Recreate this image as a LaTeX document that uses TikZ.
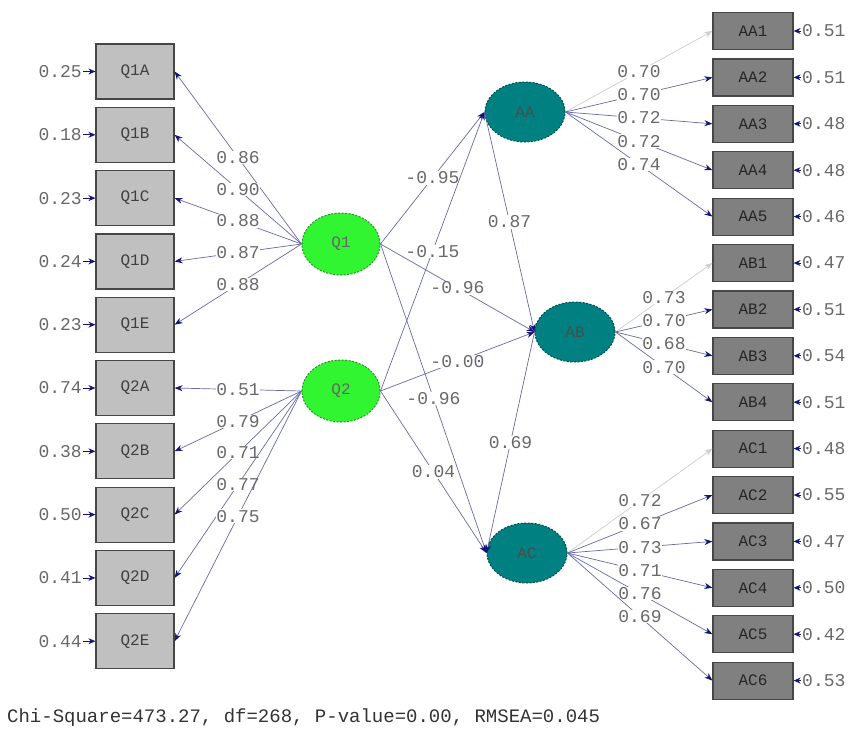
\documentclass[tikz,border=0pt]{standalone}
\usepackage{fontspec}
\setmonofont{Liberation Mono}
\usepackage{xcolor}
\usepackage{tikz}
\usetikzlibrary{shapes.geometric,arrows.meta}
\definecolor{latentGreen}{RGB}{50,245,50}
\definecolor{latentGreenLine}{RGB}{40,150,40}
\definecolor{latentTeal}{RGB}{0,128,128}
\definecolor{latentTealLine}{RGB}{0,80,80}
\definecolor{pathBlue}{RGB}{105,105,170}
\definecolor{pathNavy}{RGB}{20,20,120}
\definecolor{fixedGray}{RGB}{205,205,205}
\definecolor{boxLight}{RGB}{192,192,192}
\definecolor{boxDark}{RGB}{128,128,128}
\definecolor{boxEdge}{RGB}{70,70,70}
\definecolor{valueGray}{RGB}{105,105,105}

\begin{document}
\begin{tikzpicture}[x=1pt,y=-1pt,
  obsQ/.style={draw=boxEdge, fill=boxLight, line width=1.2pt, minimum width=78pt, minimum height=55pt, inner sep=0pt, font=\ttfamily\fontsize{16}{16}\selectfont, text=black!75},
  obsA/.style={obsQ, fill=boxDark, minimum width=80pt, minimum height=37pt, text=black!85},
  latQ/.style={ellipse, draw=latentGreenLine, dash pattern=on 2pt off 1.5pt, line width=1pt, fill=latentGreen, minimum width=78pt, minimum height=62pt, inner sep=0pt, font=\ttfamily\fontsize{16}{16}\selectfont, text=black!60},
  latA/.style={latQ, draw=latentTealLine, fill=latentTeal, minimum width=80pt, minimum height=60pt, text=black!70},
  errval/.style={font=\ttfamily\fontsize{18}{18}\selectfont, text=valueGray, inner sep=1pt},
  coef/.style={errval, fill=white, inner sep=0.5pt},
  loadline/.style={draw=pathBlue, line width=0.7pt, -{Stealth[length=8pt,width=6pt,color=pathNavy]}},
  fixedline/.style={loadline, draw=fixedGray, -{Stealth[length=8pt,width=6pt,color=fixedGray]}},
  errline/.style={draw=pathNavy, line width=0.8pt, -{Stealth[length=7pt,width=6pt]}}]
\fill[white] (0,0) rectangle (852,736);
\useasboundingbox (0,0) rectangle (852,736);
%
\node[obsQ] (Q1A) at (135,71.5) {Q1A};
\node[obsQ] (Q1B) at (135,134.8) {Q1B};
\node[obsQ] (Q1C) at (135,198.1) {Q1C};
\node[obsQ] (Q1D) at (135,261.4) {Q1D};
\node[obsQ] (Q1E) at (135,324.7) {Q1E};
\node[obsQ] (Q2A) at (135,388) {Q2A};
\node[obsQ] (Q2B) at (135,451.3) {Q2B};
\node[obsQ] (Q2C) at (135,514.6) {Q2C};
\node[obsQ] (Q2D) at (135,577.9) {Q2D};
\node[obsQ] (Q2E) at (135,641.2) {Q2E};
%
\node[errval, anchor=east] (eQ1A) at (83,71.5) {0.25};
\node[errval, anchor=east] (eQ1B) at (83,134.8) {0.18};
\node[errval, anchor=east] (eQ1C) at (83,198.1) {0.23};
\node[errval, anchor=east] (eQ1D) at (83,261.4) {0.24};
\node[errval, anchor=east] (eQ1E) at (83,324.7) {0.23};
\node[errval, anchor=east] (eQ2A) at (83,388) {0.74};
\node[errval, anchor=east] (eQ2B) at (83,451.3) {0.38};
\node[errval, anchor=east] (eQ2C) at (83,514.6) {0.50};
\node[errval, anchor=east] (eQ2D) at (83,577.9) {0.41};
\node[errval, anchor=east] (eQ2E) at (83,641.2) {0.44};
%
\node[latQ] (Q1) at (341,244) {Q1};
\node[latQ] (Q2) at (341,391) {Q2};
\node[latA] (AA) at (525,112) {AA};
\node[latA] (AB) at (575,332) {AB};
\node[latA] (AC) at (527,553) {AC};
%
\node[obsA] (AA1) at (753,31) {AA1};
\node[obsA] (AA2) at (753,77.4) {AA2};
\node[obsA] (AA3) at (753,123.8) {AA3};
\node[obsA] (AA4) at (753,170.2) {AA4};
\node[obsA] (AA5) at (753,216.6) {AA5};
\node[obsA] (AB1) at (753,263) {AB1};
\node[obsA] (AB2) at (753,309.4) {AB2};
\node[obsA] (AB3) at (753,355.8) {AB3};
\node[obsA] (AB4) at (753,402.2) {AB4};
\node[obsA] (AC1) at (753,448.6) {AC1};
\node[obsA] (AC2) at (753,495) {AC2};
\node[obsA] (AC3) at (753,541.4) {AC3};
\node[obsA] (AC4) at (753,587.8) {AC4};
\node[obsA] (AC5) at (753,634.2) {AC5};
\node[obsA] (AC6) at (753,680.6) {AC6};
%
\node[errval, anchor=west] (eAA1) at (801,31) {0.51};
\node[errval, anchor=west] (eAA2) at (801,77.4) {0.51};
\node[errval, anchor=west] (eAA3) at (801,123.8) {0.48};
\node[errval, anchor=west] (eAA4) at (801,170.2) {0.48};
\node[errval, anchor=west] (eAA5) at (801,216.6) {0.46};
\node[errval, anchor=west] (eAB1) at (801,263) {0.47};
\node[errval, anchor=west] (eAB2) at (801,309.4) {0.51};
\node[errval, anchor=west] (eAB3) at (801,355.8) {0.54};
\node[errval, anchor=west] (eAB4) at (801,402.2) {0.51};
\node[errval, anchor=west] (eAC1) at (801,448.6) {0.48};
\node[errval, anchor=west] (eAC2) at (801,495) {0.55};
\node[errval, anchor=west] (eAC3) at (801,541.4) {0.47};
\node[errval, anchor=west] (eAC4) at (801,587.8) {0.50};
\node[errval, anchor=west] (eAC5) at (801,634.2) {0.42};
\node[errval, anchor=west] (eAC6) at (801,680.6) {0.53};
%
\draw[errline] (eQ1A) -- (Q1A);
\draw[errline] (eQ1B) -- (Q1B);
\draw[errline] (eQ1C) -- (Q1C);
\draw[errline] (eQ1D) -- (Q1D);
\draw[errline] (eQ1E) -- (Q1E);
\draw[errline] (eQ2A) -- (Q2A);
\draw[errline] (eQ2B) -- (Q2B);
\draw[errline] (eQ2C) -- (Q2C);
\draw[errline] (eQ2D) -- (Q2D);
\draw[errline] (eQ2E) -- (Q2E);
\draw[errline] (eAA1) -- (AA1);
\draw[errline] (eAA2) -- (AA2);
\draw[errline] (eAA3) -- (AA3);
\draw[errline] (eAA4) -- (AA4);
\draw[errline] (eAA5) -- (AA5);
\draw[errline] (eAB1) -- (AB1);
\draw[errline] (eAB2) -- (AB2);
\draw[errline] (eAB3) -- (AB3);
\draw[errline] (eAB4) -- (AB4);
\draw[errline] (eAC1) -- (AC1);
\draw[errline] (eAC2) -- (AC2);
\draw[errline] (eAC3) -- (AC3);
\draw[errline] (eAC4) -- (AC4);
\draw[errline] (eAC5) -- (AC5);
\draw[errline] (eAC6) -- (AC6);
%
\draw[loadline] (Q1.west) -- node[coef] {0.86} (Q1A.east);
\draw[loadline] (Q1.west) -- node[coef] {0.90} (Q1B.east);
\draw[loadline] (Q1.west) -- node[coef] {0.88} (Q1C.east);
\draw[loadline] (Q1.west) -- node[coef] {0.87} (Q1D.east);
\draw[loadline] (Q1.west) -- node[coef] {0.88} (Q1E.east);
\draw[loadline] (Q2.west) -- node[coef] {0.51} (Q2A.east);
\draw[loadline] (Q2.west) -- node[coef] {0.79} (Q2B.east);
\draw[loadline] (Q2.west) -- node[coef] {0.71} (Q2C.east);
\draw[loadline] (Q2.west) -- node[coef] {0.77} (Q2D.east);
\draw[loadline] (Q2.west) -- node[coef] {0.75} (Q2E.east);
%
\draw[loadline] (Q1.east) -- node[coef] {-0.95} (AA.west);
\draw[loadline] (Q2.east) -- node[coef] {-0.15} (AA.west);
\draw[loadline] (Q1.east) -- node[coef] {-0.96} (AB.west);
\draw[loadline] (Q2.east) -- node[coef] {-0.00} (AB.west);
\draw[loadline] (Q1.east) -- node[coef] {-0.96} (AC.west);
\draw[loadline] (Q2.east) -- node[coef] {0.04} (AC.west);
\draw[loadline] (AA.west) -- node[coef] {0.87} (AB.west);
\draw[loadline] (AB.west) -- node[coef] {0.69} (AC.west);
%
\draw[fixedline] (AA.east) -- node[coef] {0.70} (AA1.west);
\draw[loadline] (AA.east) -- node[coef] {0.70} (AA2.west);
\draw[loadline] (AA.east) -- node[coef] {0.72} (AA3.west);
\draw[loadline] (AA.east) -- node[coef] {0.72} (AA4.west);
\draw[loadline] (AA.east) -- node[coef] {0.74} (AA5.west);
\draw[fixedline] (AB.east) -- node[coef] {0.73} (AB1.west);
\draw[loadline] (AB.east) -- node[coef] {0.70} (AB2.west);
\draw[loadline] (AB.east) -- node[coef] {0.68} (AB3.west);
\draw[loadline] (AB.east) -- node[coef] {0.70} (AB4.west);
\draw[fixedline] (AC.east) -- node[coef] {0.72} (AC1.west);
\draw[loadline] (AC.east) -- node[coef] {0.67} (AC2.west);
\draw[loadline] (AC.east) -- node[coef] {0.73} (AC3.west);
\draw[loadline] (AC.east) -- node[coef] {0.71} (AC4.west);
\draw[loadline] (AC.east) -- node[coef] {0.76} (AC5.west);
\draw[loadline] (AC.east) -- node[coef] {0.69} (AC6.west);
%
\node[errval, anchor=west, text=black!80, font=\ttfamily\fontsize{19}{19}\selectfont] (fitline) at (6,718) {Chi-Square=473.27, df=268, P-value=0.00, RMSEA=0.045};
\end{tikzpicture}
\end{document}
